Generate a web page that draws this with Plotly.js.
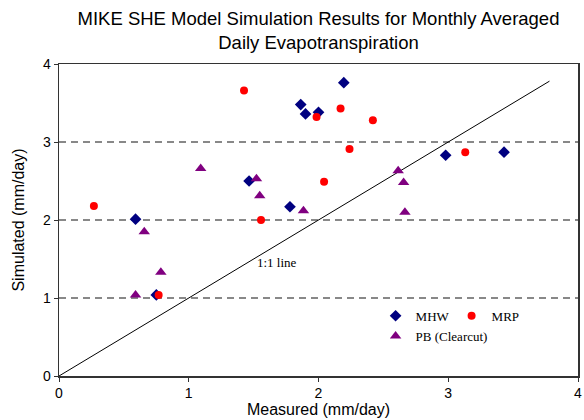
<!DOCTYPE html>
<html>
<head>
<meta charset="utf-8">
<script src="https://cdn.plot.ly/plotly-3.0.1.min.js"></script>
<style>html,body{margin:0;padding:0;background:#fff;}#chart{width:584px;height:420px;}</style>
</head>
<body>
<div id="chart"></div>
<script>
// MHW
const mhwMeasured = [0.59, 0.75, 1.465, 1.78, 1.863, 1.90, 2.00, 2.195, 2.98, 3.43];
const mhwSimulated = [2.01, 1.04, 2.50, 2.17, 3.48, 3.36, 3.38, 3.76, 2.83, 2.87];
// MRP
const mrpMeasured = [0.269, 0.768, 1.426, 1.557, 1.985, 2.043, 2.17, 2.239, 2.419, 3.131];
const mrpSimulated = [2.18, 1.04, 3.66, 2.00, 3.32, 2.49, 3.43, 2.91, 3.28, 2.87];
// PB (Clearcut)
const pbMeasured = [0.59, 0.657, 0.785, 1.092, 1.522, 1.547, 1.884, 2.614, 2.656, 2.666];
const pbSimulated = [1.04, 1.85, 1.33, 2.66, 2.53, 2.31, 2.12, 2.63, 2.48, 2.10];
// 1:1 line
const oneToOne = [0, 3.78];
const xTicks = [0, 1, 2, 3, 4];
const yTicks = [0, 1, 2, 3, 4];

const serif = '"Liberation Serif", "Times New Roman", serif';
const sans = '"Liberation Sans", Arial, sans-serif';

const traces = [
  {x: oneToOne, y: oneToOne, mode: 'lines', line: {color: '#000', width: 1}, showlegend: false, hoverinfo: 'skip'},
  {x: mhwMeasured, y: mhwSimulated, mode: 'markers', name: 'MHW', legend: 'legend',
   marker: {symbol: 'diamond', color: '#000080', size: 9}},
  {x: mrpMeasured, y: mrpSimulated, mode: 'markers', name: 'MRP', legend: 'legend',
   marker: {symbol: 'circle', color: '#FF0000', size: 8}},
  {x: pbMeasured, y: pbSimulated, mode: 'markers', name: 'PB (Clearcut)', legend: 'legend2',
   marker: {symbol: 'triangle-up', color: '#800080', size: 10}}
];

const axisCommon = {
  showline: true, mirror: true, linecolor: '#333', linewidth: 1.5,
  ticks: 'outside', ticklen: 4, tickcolor: '#333', tickwidth: 1,
  zeroline: false, tickfont: {family: sans, size: 14, color: '#000'}
};

const layout = {
  width: 584, height: 420,
  margin: {l: 59, r: 6, t: 64, b: 44},
  paper_bgcolor: '#fff', plot_bgcolor: '#fff',
  title: {
    text: 'MIKE SHE Model Simulation Results for Monthly Averaged<br>Daily Evapotranspiration',
    font: {family: sans, size: 18.5, color: '#000'},
    x: 0.5, xanchor: 'center', xref: 'paper', y: 0.94, yanchor: 'top', yref: 'container'
  },
  xaxis: Object.assign({}, axisCommon, {
    range: [0, 4], tickvals: xTicks, showgrid: false,
    title: {text: 'Measured (mm/day)', font: {family: sans, size: 16, color: '#000'}, standoff: 3}
  }),
  yaxis: Object.assign({}, axisCommon, {
    range: [0, 4], tickvals: yTicks, showgrid: true, gridcolor: '#888', gridwidth: 1.5, griddash: '7px,5px',
    title: {text: 'Simulated (mm/day)', font: {family: sans, size: 16, color: '#000'}, standoff: 14}
  }),
  legend: {
    orientation: 'h', x: 0.61, xanchor: 'left', y: 0.241, yanchor: 'top',
    bgcolor: 'rgba(0,0,0,0)', borderwidth: 0, entrywidth: 31,
    font: {family: serif, size: 13, color: '#000'}
  },
  legend2: {
    orientation: 'h', x: 0.61, xanchor: 'left', y: 0.176, yanchor: 'top',
    bgcolor: 'rgba(0,0,0,0)', borderwidth: 0,
    font: {family: serif, size: 13, color: '#000'}
  },
  annotations: [{
    x: 1.68, y: 1.46, xref: 'x', yref: 'y', text: '1:1 line', showarrow: false,
    font: {family: serif, size: 13, color: '#000'}
  }],
  showlegend: true
};

Plotly.newPlot('chart', traces, layout, {staticPlot: true, displayModeBar: false});
</script>
</body>
</html>
